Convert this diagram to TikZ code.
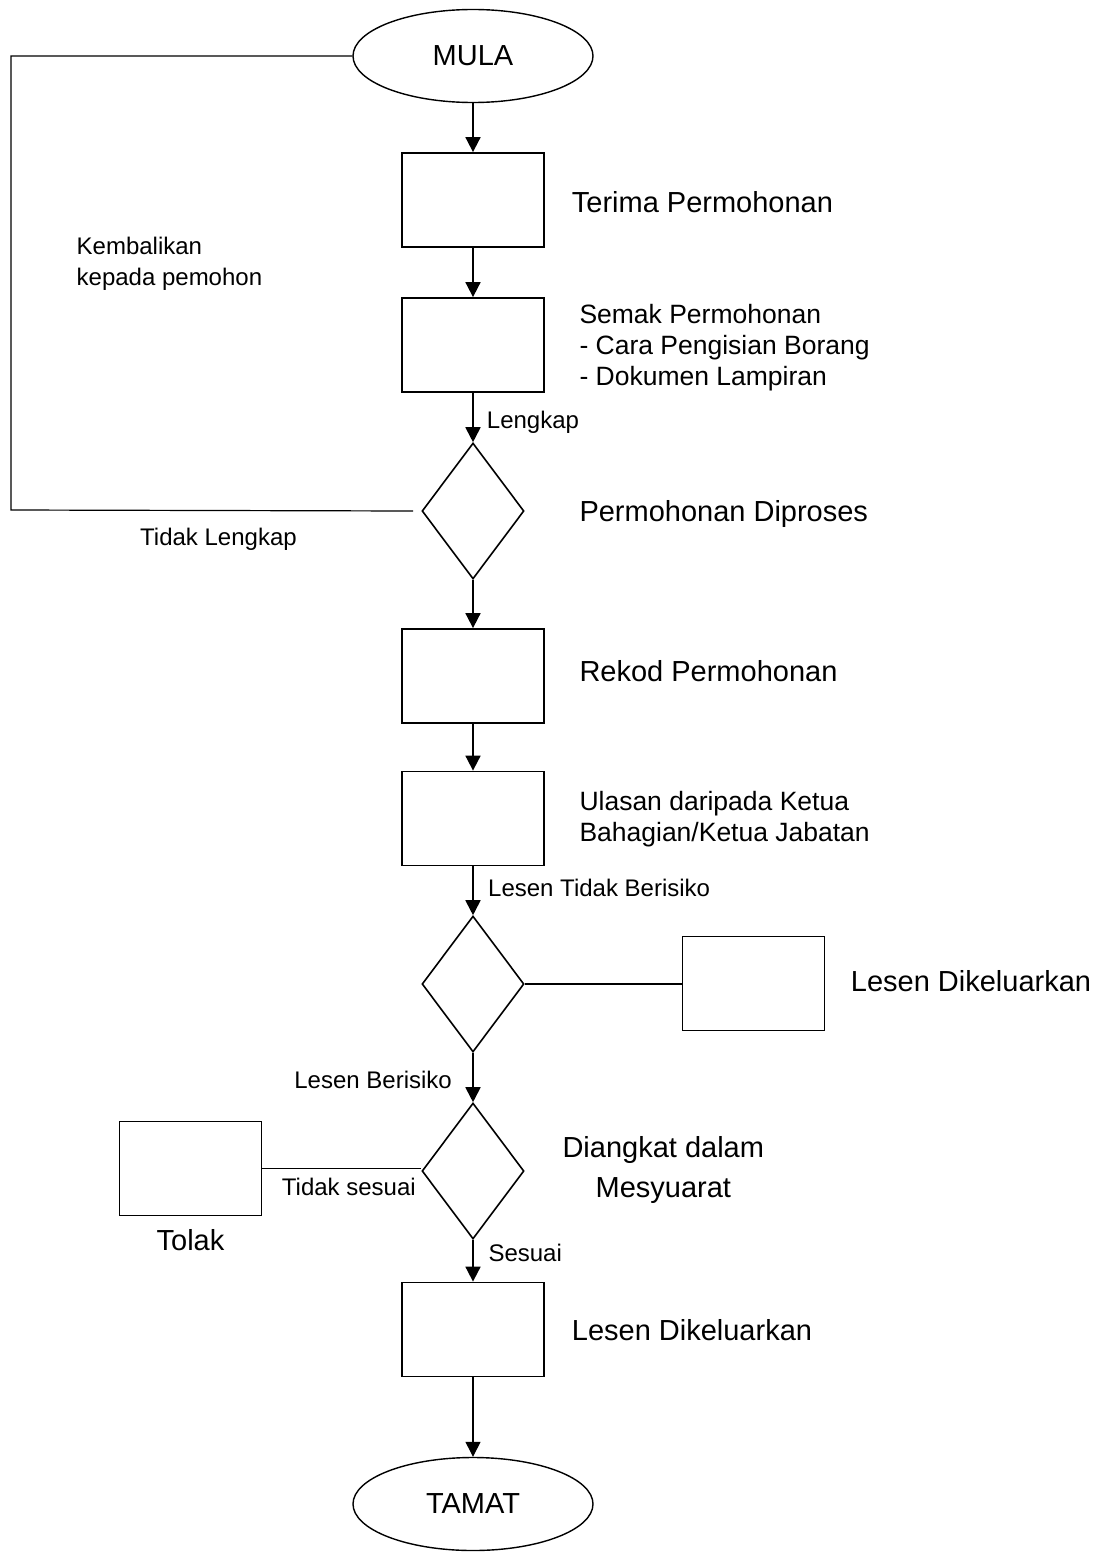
\documentclass[tikz,border=0pt]{standalone}
\usepackage{fontspec}
\setmainfont{Liberation Sans}
\usetikzlibrary{shapes.geometric,arrows.meta}
\begin{document}
\begin{tikzpicture}[x=1pt,y=-1pt,
  proc/.style={draw,line width=1.8pt,minimum width=142pt,minimum height=94pt,inner sep=0pt},
  dec/.style={draw,shape=diamond,line width=1.6pt,minimum width=102pt,minimum height=136pt,inner sep=0pt},
  term/.style={draw,ellipse,line width=1.4pt,minimum width=240pt,minimum height=93pt,inner sep=0pt,font=\fontsize{29}{33}\selectfont},
  flow/.style={line width=1.8pt,-{Triangle[length=15pt,width=15pt]}},
  thinflow/.style={line width=1.2pt,-{Triangle[length=15pt,width=15pt]}},
  link/.style={line width=1.2pt},
  big/.style={inner sep=0pt,font=\fontsize{29}{33}\selectfont},
  mid/.style={inner sep=0pt,font=\fontsize{26.5}{31}\selectfont},
  small/.style={inner sep=0pt,font=\fontsize{24}{28}\selectfont}]
\useasboundingbox (0,0) rectangle (1104,1552);
\fill[white] (0,0) rectangle (1104,1552);

% shapes
\node[term] (mula) at (473,56) {MULA};
\node[proc] (b1) at (473,200) {};
\node[proc] (b2) at (473,345) {};
\node[dec] (d1) at (473,511) {};
\node[proc] (b3) at (473,676) {};
\node[proc] (b4) at (473,818.5) {};
\node[dec] (d2) at (473,984) {};
\node[proc] (b5) at (753.5,983.5) {};
\node[dec] (d3) at (473,1171) {};
\node[proc] (tolak) at (190.5,1168.5) {};
\node[proc] (b6) at (473,1329.5) {};
\node[term] (tamat) at (473,1504) {TAMAT};

% connectors
\draw[flow] (mula) -- (b1);
\draw[flow] (b1) -- (b2);
\draw[flow] (b2) -- (d1);
\draw[flow] (d1) -- (b3);
\draw[flow] (b3) -- (b4);
\draw[flow] (b4) -- (d2);
\draw[flow] (d2) -- (d3);
\draw[flow] (d3) -- (b6);
\draw[thinflow] (b6) -- (tamat);

\coordinate (lc) at (11,510);
\coordinate (lend) at ([xshift=-8pt]d1.west);
\draw[link] (mula.west) -| (lc) -- (lend);
\draw[link] (d2.east) -- (d2.east -| b5.west);
\draw[link] (tolak.east) -- (tolak.east -| d3.west);

% texts
\node[big,anchor=base west] (t1) at (571.7,212.7) {Terima Permohonan};
\node[mid,anchor=base west] (t2a) at (579.3,323.3) {Semak Permohonan};
\node[mid,anchor=base west] (t2b) at (579.3,354.3) {- Cara Pengisian Borang};
\node[mid,anchor=base west] (t2c) at (579.3,385) {- Dokumen Lampiran};
\node[small,anchor=base west] (lk) at (486.7,428.3) {Lengkap};
\node[big,anchor=base west] (t3) at (579.3,521.7) {Permohonan Diproses};
\node[small,anchor=base west] (tl) at (140,545) {Tidak Lengkap};
\node[small,anchor=base west] (kb1) at (76.5,254.3) {Kembalikan};
\node[small,anchor=base west] (kb2) at (76.5,285) {kepada pemohon};
\node[big,anchor=base west] (t4) at (579.3,681.7) {Rekod Permohonan};
\node[mid,anchor=base west] (t5a) at (579.3,810) {Ulasan daripada Ketua};
\node[mid,anchor=base west] (t5b) at (579.3,841.7) {Bahagian/Ketua Jabatan};
\node[small,anchor=base west] (ltb) at (488,896.7) {Lesen Tidak Berisiko};
\node[big,anchor=base west] (t6) at (850.7,991.7) {Lesen Dikeluarkan};
\node[small,anchor=base east] (lb) at (452,1088.3) {Lesen Berisiko};
\node[small,anchor=base west] (ts) at (281.7,1195) {Tidak sesuai};
\node[big,anchor=base] (t7) at (190.5,1250.7) {Tolak};
\node[big,anchor=base] (t8a) at (663.3,1157.3) {Diangkat dalam};
\node[big,anchor=base] (t8b) at (663.3,1197.3) {Mesyuarat};
\node[small,anchor=base west] (ss) at (488.3,1261.7) {Sesuai};
\node[big,anchor=base west] (t9) at (571.7,1340) {Lesen Dikeluarkan};
\end{tikzpicture}
\end{document}
